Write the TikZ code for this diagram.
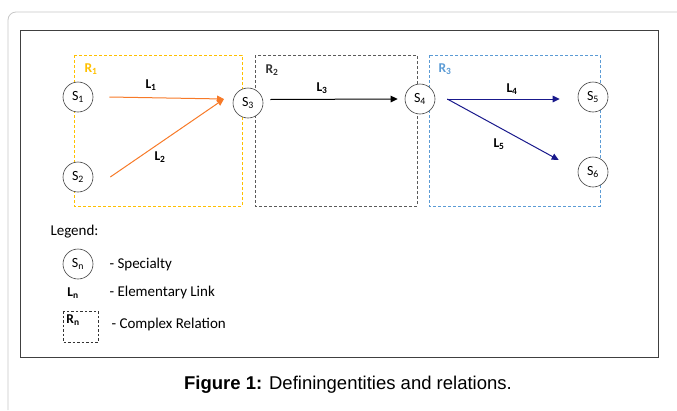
\documentclass[tikz,border=0pt]{standalone}
\usepackage{fontspec}
\setmainfont{Carlito}
\newfontfamily\capfont{Liberation Sans}
\usetikzlibrary{arrows.meta}

\definecolor{relyellow}{RGB}{255,192,0}
\definecolor{relblue}{RGB}{91,155,213}
\definecolor{relgray}{RGB}{90,90,90}
\definecolor{linkorange}{RGB}{247,122,40}
\definecolor{linknavy}{RGB}{25,25,140}

\begin{document}
\begin{tikzpicture}[x=1pt, y=-1pt, >={Triangle[length=7pt, width=6.5pt]},
    spec/.style={circle, draw=black!75, line width=0.6pt, minimum size=30pt, inner sep=0pt,
                 font=\fontsize{14}{14}\selectfont},
    relbox/.style={line width=0.8pt, dash pattern=on 3pt off 2pt},
    linklbl/.style={font=\fontsize{13.5}{13.5}\selectfont\bfseries},
    legtxt/.style={anchor=west, font=\fontsize{15}{15}\selectfont}]
    \useasboundingbox (0,0) rectangle (677,410);

    % Page panel and figure frame
    \draw[black!22, line width=0.8pt, rounded corners=8pt] (8,410) |- (677,12);
    \draw[black!75, line width=0.8pt] (20,30) rectangle (658,357);

    % Complex relations R1, R2, R3
    \draw[relbox, relyellow] (74,55) rectangle (242,206);
    \draw[relbox, relgray] (255,55) rectangle (417,206);
    \draw[relbox, relblue] (429,55) rectangle (600,206);
    \node[linklbl, relyellow] (r1) at (91,69) {R\textsubscript{1}};
    \node[linklbl, black!80] (r2) at (272,70) {R\textsubscript{2}};
    \node[linklbl, relblue] (r3) at (445,69) {R\textsubscript{3}};

    % Specialties
    \node[spec, fill=white] (s1) at (78,97) {S\textsubscript{1}};
    \node[spec, fill=white] (s2) at (78,177) {S\textsubscript{2}};
    \node[spec, fill=white] (s3) at (248,103) {S\textsubscript{3}};
    \node[spec, fill=white] (s4) at (420,99) {S\textsubscript{4}};
    \node[spec, fill=white] (s5) at (593,97) {S\textsubscript{5}};
    \node[spec, fill=white] (s6) at (593,172) {S\textsubscript{6}};

    % Elementary links
    \coordinate (hub) at (224,99);
    \draw[->, linkorange, line width=1pt] ([xshift=16pt]s1.east) -- (hub);
    \draw[->, linkorange, line width=1pt] ([xshift=17pt]s2.east) -- (hub);
    \draw[->, black, line width=1pt] ([xshift=7pt, yshift=3.5pt]s3.east) -- ([xshift=-7pt]s4.west);
    \draw[->, linknavy, line width=1pt] ([xshift=12pt]s4.east) -- ([xshift=-18pt, yshift=-2pt]s5.west);
    \draw[->, linknavy, line width=1pt] ([xshift=12pt]s4.east) -- ([xshift=-19pt, yshift=12pt]s6.west);
    \node[linklbl] (l1) at (151,85) {L\textsubscript{1}};
    \node[linklbl] (l2) at (160,157) {L\textsubscript{2}};
    \node[linklbl] (l3) at (322,88) {L\textsubscript{3}};
    \node[linklbl] (l4) at (512,89) {L\textsubscript{4}};
    \node[linklbl] (l5) at (499,144) {L\textsubscript{5}};

    % Legend
    \node[legtxt] (leg) at (47,232) {Legend:};
    \node[spec] (legs) at (78,264) {S\textsubscript{n}};
    \node[legtxt] (legst) at (106,264) {- Specialty};
    \node[linklbl] (legl) at (73,293) {L\textsubscript{n}};
    \node[legtxt] (leglt) at (106,292) {- Elementary Link};
    \draw[black!80, line width=0.7pt, dash pattern=on 2.5pt off 2pt] (63,311) rectangle (98,342);
    \node[linklbl] (legr) at (73,320) {R\textsubscript{n}};
    \node[legtxt] (legrt) at (108,324) {- Complex Relation};

    % Caption
    \node[font=\capfont\fontsize{18.5}{18.5}\selectfont] (cap) at (348,385)
        {\textbf{Figure 1:} Definingentities and relations.};
\end{tikzpicture}
\end{document}
